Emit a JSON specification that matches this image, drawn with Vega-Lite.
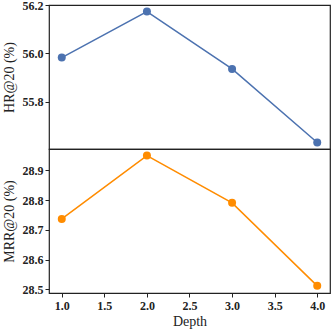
{
  "$schema": "https://vega.github.io/schema/vega-lite/v6.json",
  "padding": {"left": 1, "top": -2, "right": 1, "bottom": 0},
  "spacing": 0,
  "bounds": "flush",
  "config": {
    "font": "Liberation Serif",
    "view": {"stroke": "#222", "strokeWidth": 1.2},
    "axis": {
      "grid": false,
      "domain": false,
      "tickColor": "#222",
      "tickSize": 4,
      "labelFont": "Liberation Serif",
      "labelFontWeight": "bold",
      "labelFontSize": 12,
      "labelColor": "#222",
      "titleFont": "Liberation Serif",
      "titleFontWeight": "normal",
      "titleFontSize": 14,
      "titleColor": "#222",
      "labelPadding": 2
    }
  },
  "datasets": {
    "hr": [
      {"depth": 1.0, "value": 55.983},
      {"depth": 2.0, "value": 56.174},
      {"depth": 3.0, "value": 55.936},
      {"depth": 4.0, "value": 55.631}
    ],
    "mrr": [
      {"depth": 1.0, "value": 28.737},
      {"depth": 2.0, "value": 28.95},
      {"depth": 3.0, "value": 28.791},
      {"depth": 4.0, "value": 28.512}
    ]
  },
  "vconcat": [
    {
      "width": 281,
      "height": 144,
      "data": {"name": "hr"},
      "encoding": {
        "x": {"field": "depth", "type": "quantitative", "scale": {"domain": [0.85, 4.15], "nice": false, "zero": false},
              "axis": null},
        "y": {"field": "value", "type": "quantitative", "scale": {"domain": [55.604, 56.201], "nice": false, "zero": false},
              "axis": {"values": [55.8, 56.0, 56.2], "format": ".1f", "title": "HR@20 (%)", "titlePadding": 6}}
      },
      "layer": [
        {"mark": {"type": "line", "color": "#4C72B0", "strokeWidth": 1.5}},
        {"mark": {"type": "point", "filled": true, "opacity": 1, "color": "#4C72B0", "size": 64}}
      ]
    },
    {
      "width": 281,
      "height": 144,
      "data": {"name": "mrr"},
      "encoding": {
        "x": {"field": "depth", "type": "quantitative", "scale": {"domain": [0.85, 4.15], "nice": false, "zero": false},
              "axis": {"values": [1, 1.5, 2, 2.5, 3, 3.5, 4], "format": ".1f", "title": "Depth", "titlePadding": 3, "labelPadding": 3}},
        "y": {"field": "value", "type": "quantitative", "scale": {"domain": [28.488, 28.972], "nice": false, "zero": false},
              "axis": {"values": [28.5, 28.6, 28.7, 28.8, 28.9], "format": ".1f", "title": "MRR@20 (%)", "titlePadding": 6}}
      },
      "layer": [
        {"mark": {"type": "line", "color": "#FF8C00", "strokeWidth": 1.5}},
        {"mark": {"type": "point", "filled": true, "opacity": 1, "color": "#FF8C00", "size": 64}}
      ]
    }
  ]
}
